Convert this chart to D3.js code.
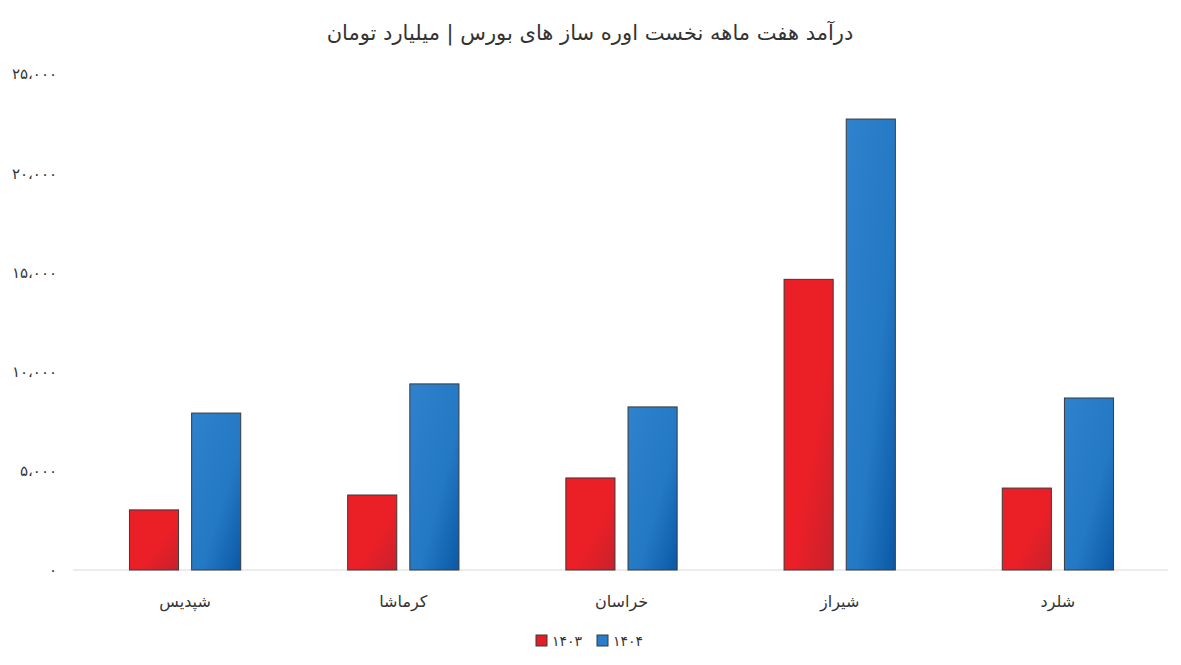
<!DOCTYPE html>
<html lang="fa">
<head>
<meta charset="utf-8">
<script src="https://cdn.jsdelivr.net/npm/d3@7"></script>
<style>
  html, body { margin: 0; padding: 0; background: #ffffff; }
  svg { display: block; }
  text { font-family: "DejaVu Sans", "Noto Sans", sans-serif; }
</style>
</head>
<body>
<svg id="chart" width="1181" height="665"></svg>
<script>
const categories = ["شپدیس", "کرماشا", "خراسان", "شیراز", "شلرد"];
const seriesNames = ["۱۴۰۳", "۱۴۰۴"];
const values1403 = [3030, 3780, 4640, 14650, 4130];
const values1404 = [7910, 9380, 8220, 22730, 8670];
const yTicks = [0, 5000, 10000, 15000, 20000, 25000];
const yTickLabels = ["۰", "۵،۰۰۰", "۱۰،۰۰۰", "۱۵،۰۰۰", "۲۰،۰۰۰", "۲۵،۰۰۰"];
const titleText = "درآمد هفت ماهه نخست اوره ساز های بورس | میلیارد تومان";

const svg = d3.select("#chart");
const W = 1181, H = 665;
const margin = {left: 73, right: 13, top: 74, bottom: 95};
const plotW = W - margin.left - margin.right;
const plotH = H - margin.top - margin.bottom;

const defs = svg.append("defs");
const gradSpecs = [
  {id: "gRed", c0: "#ec1f26", c1: "#ea1f27", c2: "#c6222c"},
  {id: "gBlue", c0: "#2f82cc", c1: "#2479c4", c2: "#0a58a6"}
];
gradSpecs.forEach(g => {
  const lg = defs.append("linearGradient").attr("id", g.id)
    .attr("x1", "0").attr("y1", "0").attr("x2", "1").attr("y2", "1");
  lg.append("stop").attr("offset", "0%").attr("stop-color", g.c0);
  lg.append("stop").attr("offset", "60%").attr("stop-color", g.c1);
  lg.append("stop").attr("offset", "100%").attr("stop-color", g.c2);
});
const fills = ["url(#gRed)", "url(#gBlue)"];
const legendColors = ["#e21f26", "#2a7dc8"];

const g = svg.append("g").attr("transform", `translate(${margin.left},${margin.top})`);

const x0 = d3.scaleBand().domain(categories).range([3, plotW - 1]).paddingInner(0.49).paddingOuter(0.245);
const x1 = d3.scaleBand().domain(seriesNames).range([0, x0.bandwidth()]).paddingInner(0.21);
const y = d3.scaleLinear().domain([0, 25000]).range([plotH, 0]);

// baseline
g.append("line").attr("x1", 0).attr("x2", plotW).attr("y1", y(0)).attr("y2", y(0))
  .attr("stroke", "#d9d9d9").attr("stroke-width", 1.2);

// y axis labels
const yAxis = d3.axisLeft(y).tickValues(yTicks).tickFormat((d, i) => yTickLabels[i]).tickSize(0).tickPadding(16);
const ya = g.append("g").call(yAxis);
ya.select(".domain").remove();
ya.selectAll("text").attr("font-size", 15).attr("fill", "#333").attr("font-family", "DejaVu Sans");

// bars
const data = categories.map((c, i) => ({cat: c, vals: [values1403[i], values1404[i]]}));
const groups = g.selectAll(".grp").data(data).join("g")
  .attr("transform", d => `translate(${x0(d.cat)},0)`);
groups.selectAll("rect").data(d => d.vals.map((v, j) => ({v, j})))
  .join("rect")
  .attr("x", d => x1(seriesNames[d.j]))
  .attr("width", x1.bandwidth())
  .attr("y", d => y(d.v))
  .attr("height", d => y(0) - y(d.v))
  .attr("fill", d => fills[d.j])
  .attr("stroke", "#3a3a3a").attr("stroke-width", 1);

// x axis labels
const xAxis = d3.axisBottom(x0).tickSize(0).tickPadding(26);
const xa = g.append("g").attr("transform", `translate(0,${plotH})`).call(xAxis);
xa.select(".domain").remove();
xa.selectAll("text").attr("font-size", 16).attr("fill", "#333");

// title
svg.append("text").attr("x", 590).attr("y", 40).attr("text-anchor", "middle")
  .attr("direction", "rtl").attr("font-size", 21).attr("fill", "#333").text(titleText);

// legend
const legend = svg.append("g").attr("transform", "translate(536,641)");
const legendX = [0, 61];
seriesNames.forEach((s, i) => {
  const lg = legend.append("g").attr("transform", `translate(${legendX[i]},0)`);
  lg.append("rect").attr("x", 0).attr("y", -6).attr("width", 11).attr("height", 11)
    .attr("fill", legendColors[i]).attr("stroke", "#3a3a3a").attr("stroke-width", 1);
  lg.append("text").attr("x", 16).attr("y", 5).attr("font-size", 14).attr("fill", "#333").text(s);
});
</script>
</body>
</html>
